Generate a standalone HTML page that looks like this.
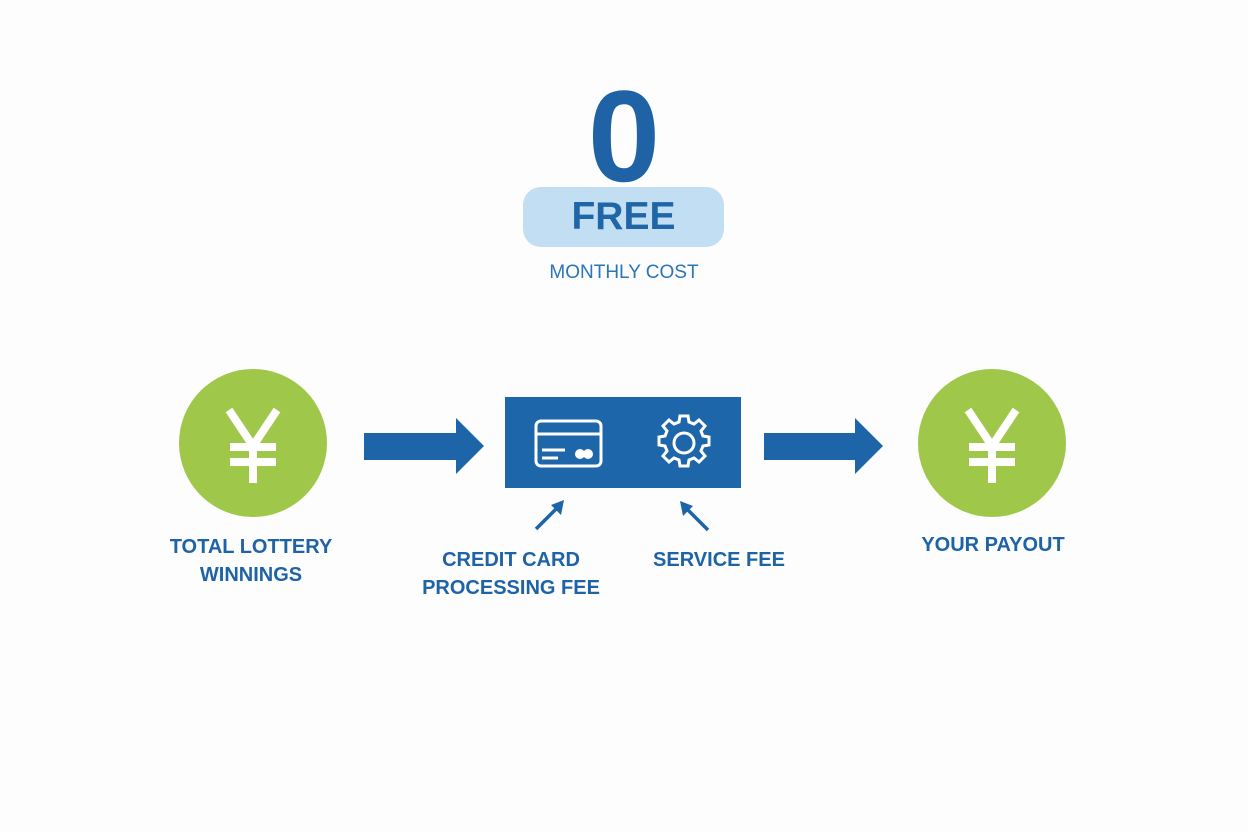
<!DOCTYPE html>
<html><head><meta charset="utf-8"><style>
body{margin:0;width:1248px;height:832px;background:#fdfdfd;position:relative;overflow:hidden;font-family:"Liberation Sans",sans-serif}
.t{position:absolute;text-align:center;color:#1e63a6;font-weight:bold}
</style></head><body>
<div class="t" style="left:524px;width:200px;top:66px;font-size:130px;line-height:140px;color:#1f63a6">0</div>
<div style="position:absolute;left:523px;top:187px;width:201px;height:60px;border-radius:18px;background:#c1def3"></div>
<div class="t" style="left:523px;width:201px;top:194px;font-size:39px;line-height:46px;color:#1f66a8">FREE</div>
<div class="t" style="left:500px;width:248px;top:262px;font-size:19px;font-weight:normal;color:#2a74b8">MONTHLY COST</div>
<svg width="1248" height="832" style="position:absolute;left:0;top:0">
<circle cx="253" cy="443" r="74" fill="#9fc84a"/>
<circle cx="992" cy="443" r="74" fill="#9fc84a"/>
<g stroke="#fff" stroke-width="8" fill="none">
<path d="M229 410 L253 446 L277 410 M253 446 V483 M230 447 H276 M230 462 H276"/>
<path d="M968 410 L992 446 L1016 410 M992 446 V483 M969 447 H1015 M969 462 H1015"/>
</g>
<path d="M364 433 H456 V418 L484 446 L456 474 V460 H364Z" fill="#1e64a8"/>
<path d="M764 433 H855 V418 L883 446 L855 474 V460 H764Z" fill="#1e64a8"/>
<rect x="505" y="397" width="236" height="91" fill="#1e66aa"/>
<g stroke="#fff" stroke-width="3" fill="none">
<rect x="536" y="421" width="65" height="45" rx="5"/>
<line x1="536" y1="434" x2="601" y2="434"/>
<line x1="542" y1="450" x2="565" y2="450"/><line x1="542" y1="458" x2="558" y2="458"/>
<circle cx="684" cy="443" r="10"/>
<path d="M680 416h8l1 6 5 2 5-4 6 6-4 5 2 5 6 1v8l-6 1-2 5 4 5-6 6-5-4-5 2-1 6h-8l-1-6-5-2-5 4-6-6 4-5-2-5-6-1v-8l6-1 2-5-4-5 6-6 5 4 5-2z"/>
</g>
<circle cx="580" cy="454" r="5" fill="#fff"/><circle cx="588" cy="454" r="5" fill="#fff"/>
<g stroke="#1e64a8" stroke-width="3.5"><line x1="536" y1="529" x2="558" y2="507"/><line x1="708" y1="530" x2="686" y2="508"/></g>
<path d="M564 500 L561 515 L551 505Z M680 501 L683 516 L693 506Z" fill="#1e64a8"/>
</svg>
<div class="t" style="left:128px;width:246px;top:533px;font-size:20px;line-height:28px">TOTAL LOTTERY<br>WINNINGS</div>
<div class="t" style="left:400px;width:222px;top:546px;font-size:20px;line-height:28px">CREDIT CARD<br>PROCESSING FEE</div>
<div class="t" style="left:620px;width:198px;top:546px;font-size:20px;line-height:28px">SERVICE FEE</div>
<div class="t" style="left:880px;width:226px;top:531px;font-size:20px;line-height:28px">YOUR PAYOUT</div>
</body></html>
